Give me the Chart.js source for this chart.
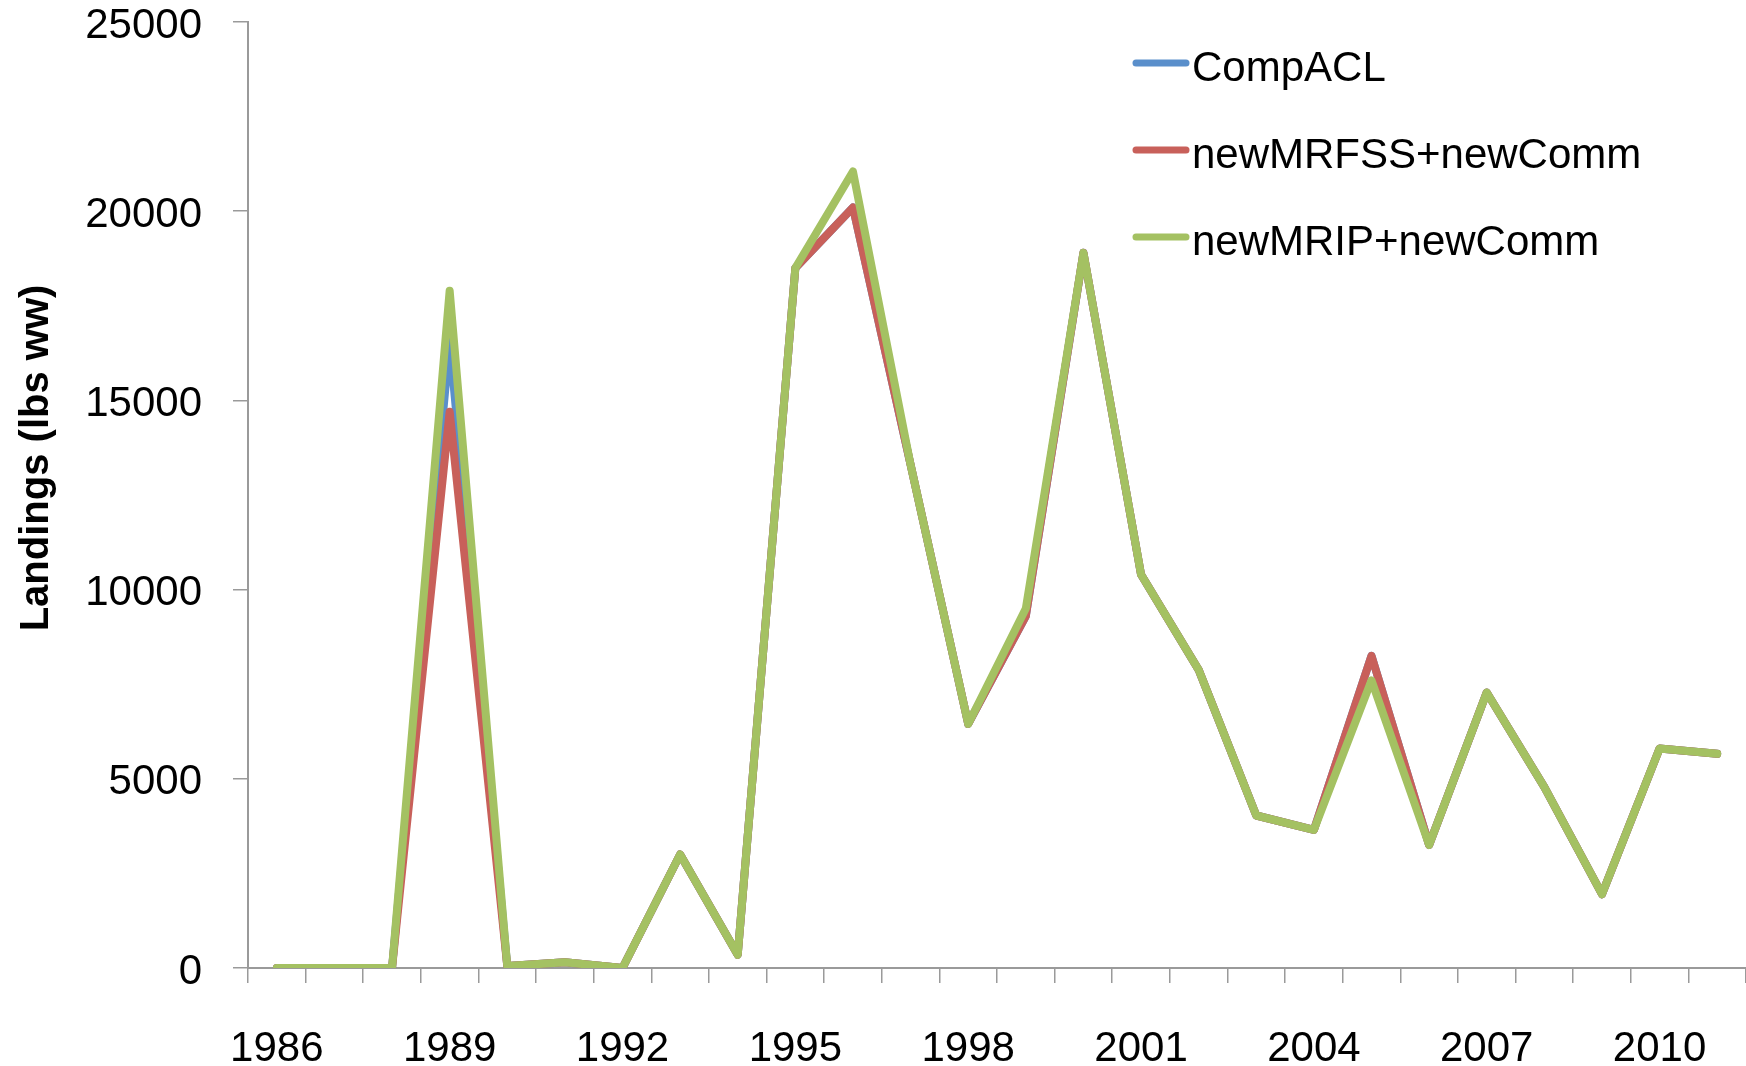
<!DOCTYPE html>
<html>
<head>
<meta charset="utf-8">
<script src="https://cdn.jsdelivr.net/npm/chart.js@4.4.0/dist/chart.umd.min.js"></script>
<style>
  body { margin: 0; background: #fff; }
  #wrap { width: 1746px; height: 1066px; }
</style>
</head>
<body>
<div id="wrap"><canvas id="chart" width="1746" height="1066"></canvas></div>
<script>
const years = ['1986','1987','1988','1989','1990','1991','1992','1993','1994','1995','1996','1997','1998',
  '1999','2000','2001','2002','2003','2004','2005','2006','2007','2008','2009','2010','2011'];

const compACL = [0, 0, 0, 16550, 50, 150, 0, 3000, 350, 18500, 20100, 13300, 6450,
  9300, 18900, 10400, 7880, 4030, 3650, 8250, 3250, 7280, 4780, 1950, 5800, 5660];
const newMRFSS = [0, 0, 0, 14700, 50, 150, 0, 3000, 350, 18500, 20100, 13300, 6450,
  9300, 18900, 10400, 7880, 4030, 3650, 8250, 3250, 7280, 4780, 1950, 5800, 5660];
const newMRIP = [0, 0, 0, 17900, 50, 150, 0, 3000, 350, 18500, 21050, 13300, 6450,
  9500, 18900, 10400, 7880, 4030, 3650, 7600, 3250, 7280, 4780, 1950, 5800, 5660];

const yTicks = [0, 5000, 10000, 15000, 20000, 25000];
const yTitle = 'Landings (lbs ww)';

const FONT = "'Liberation Sans', Arial, sans-serif";
const AXIS = '#9a9a9a';

// legend + rotated axis title, drawn on top
const extras = {
  id: 'extras',
  afterDraw(chart) {
    const ctx = chart.ctx;
    ctx.save();
    ctx.font = 'bold 40px ' + FONT;
    ctx.fillStyle = '#000';
    ctx.textAlign = 'center';
    ctx.textBaseline = 'middle';
    ctx.translate(37, 458);
    ctx.rotate(-Math.PI / 2);
    ctx.fillText(yTitle, 0, 0);
    ctx.restore();

    ctx.save();
    ctx.font = '42px ' + FONT;
    ctx.textBaseline = 'middle';
    ctx.lineCap = 'round';
    chart.data.datasets.forEach((ds, i) => {
      const y = 63 + i * 87;
      ctx.strokeStyle = ds.borderColor;
      ctx.lineWidth = 7;
      ctx.beginPath();
      ctx.moveTo(1136, y);
      ctx.lineTo(1186, y);
      ctx.stroke();
      ctx.fillStyle = '#000';
      ctx.fillText(ds.label, 1192, y + 6);
    });
    ctx.restore();
  }
};

new Chart(document.getElementById('chart').getContext('2d'), {
  type: 'line',
  data: {
    labels: years,
    datasets: [
      { label: 'CompACL', data: compACL, borderColor: '#5A8FCB', order: 3 },
      { label: 'newMRFSS+newComm', data: newMRFSS, borderColor: '#C8605A', order: 2 },
      { label: 'newMRIP+newComm', data: newMRIP, borderColor: '#A4C162', order: 1 }
    ].map(d => Object.assign(d, {
      borderWidth: 8,
      pointRadius: 0,
      tension: 0,
      borderJoinStyle: 'round',
      borderCapStyle: 'round',
      fill: false
    }))
  },
  options: {
    responsive: false,
    animation: false,
    layout: { padding: { top: 22, left: 0, right: 0, bottom: 0 } },
    plugins: { legend: { display: false }, tooltip: { enabled: false } },
    scales: {
      x: {
        offset: true,
        grid: { offset: true, drawOnChartArea: false, drawTicks: true, tickLength: 15, color: AXIS, lineWidth: 1.5 },
        border: { color: AXIS, width: 2 },
        ticks: {
          autoSkip: false,
          maxRotation: 0,
          padding: 3,
          color: '#000',
          font: { family: FONT, size: 42, lineHeight: 3.0 },
          callback: (v, i) => (i % 3 === 0 ? years[i] : '')
        },
        afterFit(scale) {
          scale.height = 98;
          scale.paddingLeft = 0;
          scale.paddingRight = 0;
        }
      },
      y: {
        min: 0,
        max: 25000,
        afterBuildTicks(scale) {
          scale.ticks = yTicks.map(v => ({ value: v }));
        },
        grid: { drawOnChartArea: false, drawTicks: true, tickLength: 15, color: AXIS, lineWidth: 1.5 },
        border: { color: AXIS, width: 2 },
        ticks: {
          padding: 31,
          labelOffset: 4,
          color: '#000',
          font: { family: FONT, size: 42, lineHeight: 1 },
          callback: v => String(v)
        },
        afterFit(scale) {
          scale.width = 248;
          scale.paddingTop = 0;
          scale.paddingBottom = 0;
        }
      }
    }
  },
  plugins: [extras]
});
</script>
</body>
</html>
